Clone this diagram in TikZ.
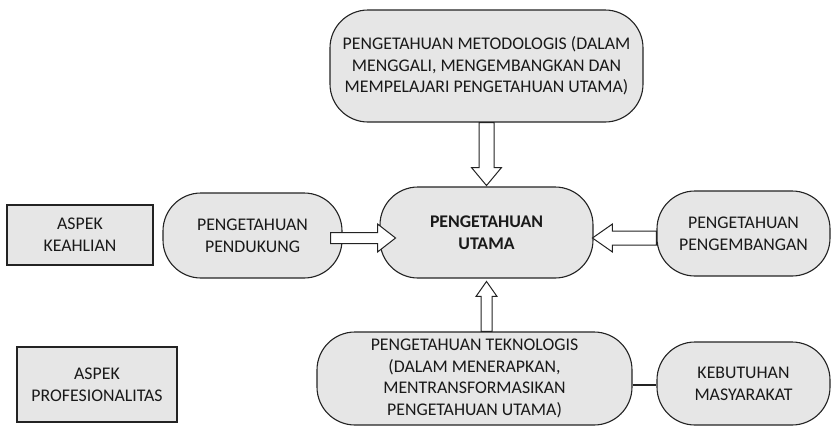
\documentclass[tikz,border=0pt]{standalone}
\usepackage{fontspec}
\setmainfont{Carlito}
\usetikzlibrary{calc}
\definecolor{boxfill}{RGB}{230,230,230}
\definecolor{ink}{RGB}{25,25,25}
\definecolor{edge}{RGB}{35,35,35}
\begin{document}
\begin{tikzpicture}[x=1pt,y=-1pt,
  base/.style={draw=edge, line width=1.1pt, fill=boxfill, text=ink, align=center, inner sep=0pt,
    font=\fontsize{17.8}{21.7}\selectfont},
  roundbox/.style={base, rounded corners=38pt},
  squarebox/.style={base},
  fatarrow/.style={draw=edge, line width=1pt, fill=white, line join=miter},
  link/.style={draw=edge, line width=1.1pt}]
\useasboundingbox (0,0) rectangle (831,426);

\node[roundbox, minimum width=313pt, minimum height=112pt] (top) at (486.5,66)
  {PENGETAHUAN METODOLOGIS (DALAM\\MENGGALI, MENGEMBANGKAN DAN\\MEMPELAJARI PENGETAHUAN UTAMA)};
\node[roundbox, minimum width=213pt, minimum height=91pt] (mid) at (486.5,232.5)
  {\bfseries PENGETAHUAN\\\bfseries UTAMA};
\node[roundbox, minimum width=179pt, minimum height=85pt] (sup) at (252.5,235.5)
  {PENGETAHUAN\\PENDUKUNG};
\node[roundbox, minimum width=173pt, minimum height=85pt] (dev) at (743.5,233.5)
  {PENGETAHUAN\\PENGEMBANGAN};
\node[roundbox, minimum width=315pt, minimum height=93pt] (tek) at (474.5,378.5)
  {PENGETAHUAN TEKNOLOGIS\\(DALAM MENERAPKAN,\\MENTRANSFORMASIKAN\\PENGETAHUAN UTAMA)};
\node[roundbox, minimum width=173pt, minimum height=83pt] (need) at (743.5,383.5)
  {KEBUTUHAN\\MASYARAKAT};
\node[squarebox, minimum width=146pt, minimum height=60pt] (ahli) at (80,235)
  {ASPEK\\KEAHLIAN};
\node[squarebox, minimum width=160pt, minimum height=75pt] (prof) at (97,384.5)
  {ASPEK\\PROFESIONALITAS};

% top -> mid
\draw[fatarrow] ($(top.south)+(-7.5,0)$) -- ++(0,45) -- ++(-7.5,0) -- ++(15,18)
  -- ++(15,-18) -- ++(-7.5,0) -- ++(0,-45) -- cycle;
% sup -> mid
\draw[fatarrow] ($(sup.east)+(-12,-3)$) -- ++(47,0) -- ++(0,-8.5) -- ++(18,14)
  -- ++(-18,14) -- ++(0,-8.5) -- ++(-47,0) -- cycle;
% dev -> mid
\draw[fatarrow] ($(dev.west)+(0,-2.5)$) -- ++(-44,0) -- ++(0,-7) -- ++(-20,14)
  -- ++(20,14) -- ++(0,-7) -- ++(44,0) -- cycle;
% tek -> mid
\draw[fatarrow] ($(tek.north)+(6.5,0)$) -- ++(0,-35) -- ++(-5,0) -- ++(10.5,-15)
  -- ++(10.5,15) -- ++(-5,0) -- ++(0,35) -- cycle;
% tek -- need
\draw[link] ($(tek.east)+(0,6.5)$) -- ($(need.west)+(0,1.5)$);
\end{tikzpicture}
\end{document}
